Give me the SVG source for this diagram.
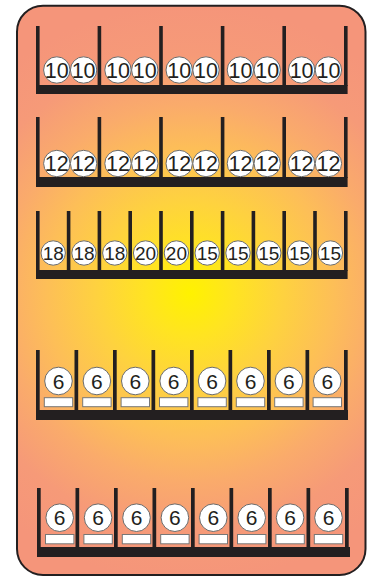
<svg xmlns="http://www.w3.org/2000/svg" width="368" height="578" viewBox="0 0 368 578">
<defs>
<radialGradient id="bg" gradientUnits="userSpaceOnUse" cx="190" cy="293" r="290">
<stop offset="0" stop-color="#FFF200"/>
<stop offset="0.15" stop-color="#FFE421"/>
<stop offset="0.32" stop-color="#FED23F"/>
<stop offset="0.5" stop-color="#FDBE58"/>
<stop offset="0.65" stop-color="#FAAB6B"/>
<stop offset="0.82" stop-color="#F69A78"/>
<stop offset="1" stop-color="#F5957A"/>
</radialGradient>
</defs>
<style>
.post{fill:#231F20}
.c{fill:#fff;stroke:#6B6B6B;stroke-width:1}
.lbl{fill:#fff;stroke:#777;stroke-width:1}
.t{font-family:"Liberation Sans",Arial,sans-serif;fill:#231F20;text-anchor:middle}
.t1{font-size:21.5px}
.t3{font-size:19px}
.t4{font-size:21px}
</style>
<rect id="frame" x="17" y="5.7" width="348.5" height="569.3" rx="26" fill="url(#bg)" stroke="#231F20" stroke-width="2"/>

<g id="shelf1">
<rect class="post" x="36" y="26" width="3.6" height="60"/>
<rect class="post" x="97.6" y="26" width="3.6" height="60"/>
<rect class="post" x="159.2" y="26" width="3.6" height="60"/>
<rect class="post" x="220.8" y="26" width="3.6" height="60"/>
<rect class="post" x="282.4" y="26" width="3.6" height="60"/>
<rect class="post" x="344" y="26" width="3.6" height="60"/>
<rect class="post" x="36" y="85" width="311.6" height="9"/>
<circle class="c" cx="56.8" cy="70" r="13.2"/><circle class="c" cx="83.6" cy="70" r="13.2"/>
<circle class="c" cx="118" cy="70" r="13.2"/><circle class="c" cx="144.8" cy="70" r="13.2"/>
<circle class="c" cx="179.2" cy="70" r="13.2"/><circle class="c" cx="206" cy="70" r="13.2"/>
<circle class="c" cx="240.4" cy="70" r="13.2"/><circle class="c" cx="267.2" cy="70" r="13.2"/>
<circle class="c" cx="301.6" cy="70" r="13.2"/><circle class="c" cx="328.4" cy="70" r="13.2"/>
<text class="t t1" x="56.8" y="77.7">10</text><text class="t t1" x="83.6" y="77.7">10</text>
<text class="t t1" x="118" y="77.7">10</text><text class="t t1" x="144.8" y="77.7">10</text>
<text class="t t1" x="179.2" y="77.7">10</text><text class="t t1" x="206" y="77.7">10</text>
<text class="t t1" x="240.4" y="77.7">10</text><text class="t t1" x="267.2" y="77.7">10</text>
<text class="t t1" x="301.6" y="77.7">10</text><text class="t t1" x="328.4" y="77.7">10</text>
</g>

<g id="shelf2">
<rect class="post" x="36" y="117" width="3.6" height="61"/>
<rect class="post" x="97.6" y="117" width="3.6" height="61"/>
<rect class="post" x="159.2" y="117" width="3.6" height="61"/>
<rect class="post" x="220.8" y="117" width="3.6" height="61"/>
<rect class="post" x="282.4" y="117" width="3.6" height="61"/>
<rect class="post" x="344" y="117" width="3.6" height="61"/>
<rect class="post" x="36" y="177" width="311.6" height="10"/>
<circle class="c" cx="56.8" cy="163.5" r="13.2"/><circle class="c" cx="83.6" cy="163.5" r="13.2"/>
<circle class="c" cx="118" cy="163.5" r="13.2"/><circle class="c" cx="144.8" cy="163.5" r="13.2"/>
<circle class="c" cx="179.2" cy="163.5" r="13.2"/><circle class="c" cx="206" cy="163.5" r="13.2"/>
<circle class="c" cx="240.4" cy="163.5" r="13.2"/><circle class="c" cx="267.2" cy="163.5" r="13.2"/>
<circle class="c" cx="301.6" cy="163.5" r="13.2"/><circle class="c" cx="328.4" cy="163.5" r="13.2"/>
<text class="t t1" x="56.8" y="171.2">12</text><text class="t t1" x="83.6" y="171.2">12</text>
<text class="t t1" x="118" y="171.2">12</text><text class="t t1" x="144.8" y="171.2">12</text>
<text class="t t1" x="179.2" y="171.2">12</text><text class="t t1" x="206" y="171.2">12</text>
<text class="t t1" x="240.4" y="171.2">12</text><text class="t t1" x="267.2" y="171.2">12</text>
<text class="t t1" x="301.6" y="171.2">12</text><text class="t t1" x="328.4" y="171.2">12</text>
</g>

<g id="shelf3">
<rect class="post" x="36" y="211" width="3.6" height="60"/>
<rect class="post" x="66.8" y="211" width="3.6" height="60"/>
<rect class="post" x="97.6" y="211" width="3.6" height="60"/>
<rect class="post" x="128.4" y="211" width="3.6" height="60"/>
<rect class="post" x="159.2" y="211" width="3.6" height="60"/>
<rect class="post" x="190" y="211" width="3.6" height="60"/>
<rect class="post" x="220.8" y="211" width="3.6" height="60"/>
<rect class="post" x="251.6" y="211" width="3.6" height="60"/>
<rect class="post" x="282.4" y="211" width="3.6" height="60"/>
<rect class="post" x="313.2" y="211" width="3.6" height="60"/>
<rect class="post" x="344" y="211" width="3.6" height="60"/>
<rect class="post" x="36" y="270" width="311.6" height="9"/>
<circle class="c" cx="53.2" cy="253" r="12.2"/><circle class="c" cx="84" cy="253" r="12.2"/>
<circle class="c" cx="114.8" cy="253" r="12.2"/><circle class="c" cx="145.6" cy="253" r="12.2"/>
<circle class="c" cx="176.4" cy="253" r="12.2"/><circle class="c" cx="207.2" cy="253" r="12.2"/>
<circle class="c" cx="238" cy="253" r="12.2"/><circle class="c" cx="268.8" cy="253" r="12.2"/>
<circle class="c" cx="299.6" cy="253" r="12.2"/><circle class="c" cx="330.4" cy="253" r="12.2"/>
<text class="t t3" x="53.2" y="259.8">18</text><text class="t t3" x="84" y="259.8">18</text>
<text class="t t3" x="114.8" y="259.8">18</text><text class="t t3" x="145.6" y="259.8">20</text>
<text class="t t3" x="176.4" y="259.8">20</text><text class="t t3" x="207.2" y="259.8">15</text>
<text class="t t3" x="238" y="259.8">15</text><text class="t t3" x="268.8" y="259.8">15</text>
<text class="t t3" x="299.6" y="259.8">15</text><text class="t t3" x="330.4" y="259.8">15</text>
</g>

<g id="shelf4">
<rect class="post" x="36" y="350" width="3.7" height="61"/>
<rect class="post" x="74.5" y="350" width="3.7" height="61"/>
<rect class="post" x="113" y="350" width="3.7" height="61"/>
<rect class="post" x="151.5" y="350" width="3.7" height="61"/>
<rect class="post" x="190" y="350" width="3.7" height="61"/>
<rect class="post" x="228.5" y="350" width="3.7" height="61"/>
<rect class="post" x="267" y="350" width="3.7" height="61"/>
<rect class="post" x="305.5" y="350" width="3.7" height="61"/>
<rect class="post" x="344" y="350" width="3.7" height="61"/>
<rect class="post" x="36" y="410" width="312" height="10"/>
<circle class="c" cx="58.5" cy="381" r="13.8"/><circle class="c" cx="96.9" cy="381" r="13.8"/>
<circle class="c" cx="135.3" cy="381" r="13.8"/><circle class="c" cx="173.7" cy="381" r="13.8"/>
<circle class="c" cx="212.1" cy="381" r="13.8"/><circle class="c" cx="250.5" cy="381" r="13.8"/>
<circle class="c" cx="288.9" cy="381" r="13.8"/><circle class="c" cx="327.3" cy="381" r="13.8"/>
<rect class="lbl" x="44.3" y="397.7" width="28.4" height="9"/><rect class="lbl" x="82.7" y="397.7" width="28.4" height="9"/>
<rect class="lbl" x="121.1" y="397.7" width="28.4" height="9"/><rect class="lbl" x="159.5" y="397.7" width="28.4" height="9"/>
<rect class="lbl" x="197.9" y="397.7" width="28.4" height="9"/><rect class="lbl" x="236.3" y="397.7" width="28.4" height="9"/>
<rect class="lbl" x="274.7" y="397.7" width="28.4" height="9"/><rect class="lbl" x="313.1" y="397.7" width="28.4" height="9"/>
<text class="t t4" x="58.5" y="388.6">6</text><text class="t t4" x="96.9" y="388.6">6</text>
<text class="t t4" x="135.3" y="388.6">6</text><text class="t t4" x="173.7" y="388.6">6</text>
<text class="t t4" x="212.1" y="388.6">6</text><text class="t t4" x="250.5" y="388.6">6</text>
<text class="t t4" x="288.9" y="388.6">6</text><text class="t t4" x="327.3" y="388.6">6</text>
</g>

<g id="shelf5">
<rect class="post" x="37" y="488" width="3.7" height="60"/>
<rect class="post" x="75.5" y="488" width="3.7" height="60"/>
<rect class="post" x="114" y="488" width="3.7" height="60"/>
<rect class="post" x="152.5" y="488" width="3.7" height="60"/>
<rect class="post" x="191" y="488" width="3.7" height="60"/>
<rect class="post" x="229.5" y="488" width="3.7" height="60"/>
<rect class="post" x="268" y="488" width="3.7" height="60"/>
<rect class="post" x="306.5" y="488" width="3.7" height="60"/>
<rect class="post" x="345" y="488" width="3.7" height="60"/>
<rect class="post" x="37" y="547" width="313" height="10"/>
<circle class="c" cx="59.7" cy="517.7" r="13.8"/><circle class="c" cx="98.1" cy="517.7" r="13.8"/>
<circle class="c" cx="136.5" cy="517.7" r="13.8"/><circle class="c" cx="174.9" cy="517.7" r="13.8"/>
<circle class="c" cx="213.3" cy="517.7" r="13.8"/><circle class="c" cx="251.7" cy="517.7" r="13.8"/>
<circle class="c" cx="290.1" cy="517.7" r="13.8"/><circle class="c" cx="328.5" cy="517.7" r="13.8"/>
<rect class="lbl" x="45.5" y="534.5" width="28.4" height="9.3"/><rect class="lbl" x="83.9" y="534.5" width="28.4" height="9.3"/>
<rect class="lbl" x="122.3" y="534.5" width="28.4" height="9.3"/><rect class="lbl" x="160.7" y="534.5" width="28.4" height="9.3"/>
<rect class="lbl" x="199.1" y="534.5" width="28.4" height="9.3"/><rect class="lbl" x="237.5" y="534.5" width="28.4" height="9.3"/>
<rect class="lbl" x="275.9" y="534.5" width="28.4" height="9.3"/><rect class="lbl" x="314.3" y="534.5" width="28.4" height="9.3"/>
<text class="t t4" x="59.7" y="525.3">6</text><text class="t t4" x="98.1" y="525.3">6</text>
<text class="t t4" x="136.5" y="525.3">6</text><text class="t t4" x="174.9" y="525.3">6</text>
<text class="t t4" x="213.3" y="525.3">6</text><text class="t t4" x="251.7" y="525.3">6</text>
<text class="t t4" x="290.1" y="525.3">6</text><text class="t t4" x="328.5" y="525.3">6</text>
</g>
</svg>
